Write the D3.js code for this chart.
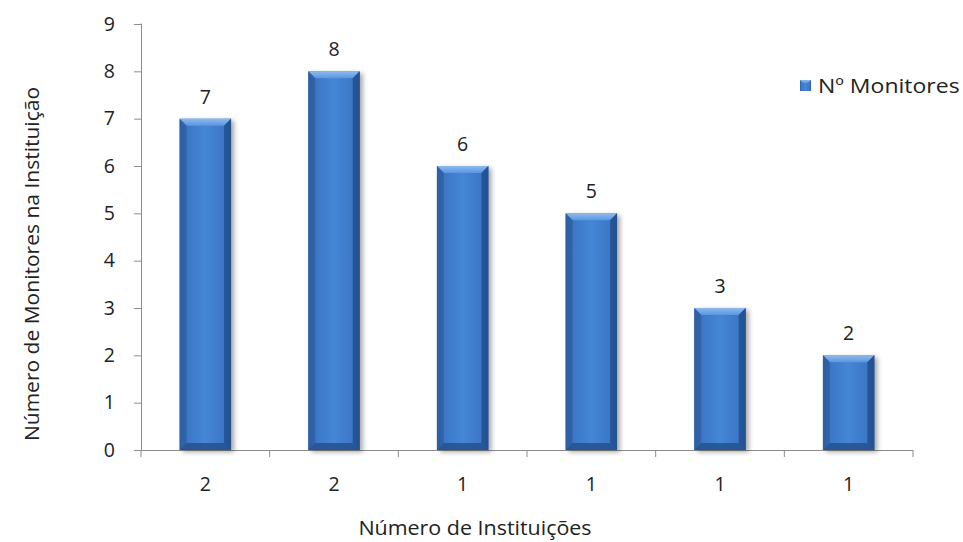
<!DOCTYPE html>
<html>
<head>
<meta charset="utf-8">
<script src="https://cdn.jsdelivr.net/npm/d3@7"></script>
<style>
  html, body { margin: 0; padding: 0; background: #fff; }
  svg { display: block; font-family: "Open Sans", "Noto Sans", sans-serif; }
</style>
</head>
<body>
<svg id="chart" width="963" height="542"></svg>
<script>
// Monitors per institution, grouped by number of institutions
const categories = ["2", "2", "1", "1", "1", "1"];
const monitors = [7, 8, 6, 5, 3, 2];
const yTicks = [0, 1, 2, 3, 4, 5, 6, 7, 8, 9];
const seriesName = "Nº Monitores";
const xTitle = "Número de Instituições";
const yTitle = "Número de Monitores na Instituição";

const svg = d3.select("#chart");
const plotLeft = 141, plotRight = 913, plotTop = 24, plotBottom = 450;
const fontSize = 19.5;
const stretch = 1.1; // slightly wide lettering for titles and legend

const x = d3.scaleBand()
  .domain(d3.range(categories.length))
  .range([plotLeft, plotRight])
  .paddingInner(0.6)
  .paddingOuter(0.3);
const y = d3.scaleLinear().domain([0, 9]).range([plotBottom, plotTop]);

const defs = svg.append("defs");
const g = defs.append("linearGradient").attr("id", "barGrad")
  .attr("x1", "0").attr("x2", "1").attr("y1", "0").attr("y2", "0");
g.append("stop").attr("offset", "0%").attr("stop-color", "#2f62a6");
g.append("stop").attr("offset", "12%").attr("stop-color", "#3b76c4");
g.append("stop").attr("offset", "50%").attr("stop-color", "#4586d6");
g.append("stop").attr("offset", "88%").attr("stop-color", "#3b76c4");
g.append("stop").attr("offset", "100%").attr("stop-color", "#2a5898");

const topGrad = defs.append("linearGradient").attr("id", "topGrad")
  .attr("x1", "0").attr("x2", "0").attr("y1", "0").attr("y2", "1");
topGrad.append("stop").attr("offset", "0%").attr("stop-color", "#8fb9ee");
topGrad.append("stop").attr("offset", "100%").attr("stop-color", "#5a96e0");

const shadow = defs.append("filter").attr("id", "shadow")
  .attr("x", "-20%").attr("y", "-10%").attr("width", "150%").attr("height", "130%");
shadow.append("feGaussianBlur").attr("in", "SourceAlpha").attr("stdDeviation", 2.5);
shadow.append("feOffset").attr("dx", 3).attr("dy", 2).attr("result", "b");
shadow.append("feComponentTransfer").append("feFuncA").attr("type", "linear").attr("slope", 0.35);
const m = shadow.append("feMerge");
m.append("feMergeNode");
m.append("feMergeNode").attr("in", "SourceGraphic");

// Axes
const axisColor = "#8c8c8c";
const yAxis = svg.append("g").attr("transform", `translate(${plotLeft},0)`)
  .call(d3.axisLeft(y).tickValues(yTicks).tickSize(7).tickPadding(19).tickFormat(d3.format("d")));
const xAxis = svg.append("g").attr("transform", `translate(0,${y(0)})`)
  .call(d3.axisBottom(x).tickSize(0).tickPadding(27).tickFormat(i => categories[i]));
// Tick marks at category boundaries
const bounds = d3.range(categories.length + 1).map(i =>
  plotLeft + i * (plotRight - plotLeft) / categories.length);
xAxis.selectAll(".bound").data(bounds).enter().append("line")
  .attr("class", "bound")
  .attr("x1", d => d).attr("x2", d => d).attr("y1", 0).attr("y2", 7)
  .attr("stroke", axisColor);

[yAxis, xAxis].forEach(a => {
  a.select(".domain").attr("stroke", axisColor).attr("stroke-width", 1);
  a.selectAll(".tick line").attr("stroke", axisColor);
  a.selectAll("text").attr("font-size", fontSize).attr("fill", "#222")
    .attr("font-family", "'Open Sans', 'Noto Sans', sans-serif");
});
yAxis.select(".domain").attr("d", `M-0.5,${y(9)}H0.5V${y(0)}`);
xAxis.select(".domain").attr("d", `M${plotLeft},0.5H${plotRight}`);

// Bars with bevelled look
const bev = 7;
const bars = svg.append("g").selectAll("g.bar").data(monitors).enter()
  .append("g").attr("class", "bar");

bars.each(function (v, i) {
  const sel = d3.select(this);
  const x0 = x(i), w = x.bandwidth(), y0 = y(v), h = y(0) - y(v);
  sel.append("rect").attr("x", x0).attr("y", y0).attr("width", w).attr("height", h)
    .attr("fill", "url(#barGrad)").attr("filter", "url(#shadow)");
  // top bevel
  sel.append("path")
    .attr("d", `M${x0},${y0}H${x0 + w}L${x0 + w - bev},${y0 + bev}H${x0 + bev}Z`)
    .attr("fill", "url(#topGrad)");
  // left bevel
  sel.append("path")
    .attr("d", `M${x0},${y0}L${x0 + bev},${y0 + bev}V${y0 + h - bev}L${x0},${y0 + h}Z`)
    .attr("fill", "#2d5ea2").attr("opacity", 0.75);
  // right bevel
  sel.append("path")
    .attr("d", `M${x0 + w},${y0}L${x0 + w - bev},${y0 + bev}V${y0 + h - bev}L${x0 + w},${y0 + h}Z`)
    .attr("fill", "#22508f").attr("opacity", 0.85);
  // bottom bevel
  sel.append("path")
    .attr("d", `M${x0},${y0 + h}L${x0 + bev},${y0 + h - bev}H${x0 + w - bev}L${x0 + w},${y0 + h}Z`)
    .attr("fill", "#24518f").attr("opacity", 0.85);
});

// Value labels
svg.append("g").selectAll("text").data(monitors).enter().append("text")
  .attr("x", (d, i) => x(i) + x.bandwidth() / 2)
  .attr("y", d => y(d) - 15)
  .attr("text-anchor", "middle")
  .attr("font-size", fontSize).attr("fill", "#222")
  .text(d => d);

// Axis titles
svg.append("text")
  .attr("transform", `translate(475,535) scale(${stretch},1)`)
  .attr("text-anchor", "middle").attr("font-size", fontSize).attr("fill", "#222")
  .text(xTitle);
svg.append("text")
  .attr("transform", `translate(39,264) rotate(-90) scale(${stretch * 0.98},1)`)
  .attr("text-anchor", "middle").attr("font-size", fontSize).attr("fill", "#222")
  .text(yTitle);

// Legend
const lg = svg.append("g").attr("transform", "translate(800,79)");
lg.append("rect").attr("x", 0).attr("y", 1).attr("width", 11).attr("height", 11)
  .attr("fill", "url(#barGrad)");
lg.append("path").attr("d", "M0,1H11L8,4H3Z").attr("fill", "url(#topGrad)");
lg.append("text").attr("transform", `translate(18,13.5) scale(${stretch + 0.08},1)`)
  .attr("font-size", fontSize).attr("fill", "#222")
  .text(seriesName);
</script>
</body>
</html>
